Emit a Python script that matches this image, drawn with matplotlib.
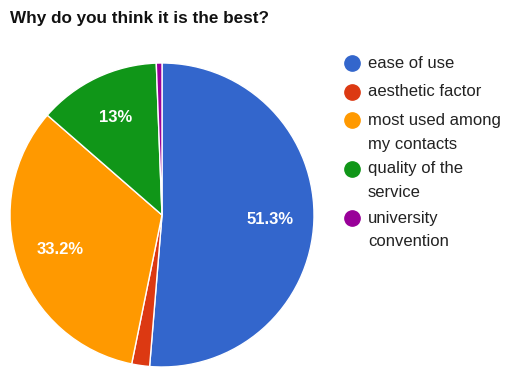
import matplotlib.pyplot as plt
from matplotlib.lines import Line2D

plt.rcParams['font.family'] = ['Liberation Sans', 'DejaVu Sans']

title = "Why do you think it is the best?"
labels = ["ease of use", "aesthetic factor", "most used among\nmy contacts",
          "quality of the\nservice", "university\nconvention"]
values = [51.3, 1.9, 33.2, 13.0, 0.6]
colors = ["#3366cc", "#dc3912", "#ff9900", "#109618", "#990099"]


def fmt_pct(p):
    if p < 5:
        return ""
    s = f"{p:.1f}"
    if s.endswith(".0"):
        s = s[:-2]
    return s + "%"


fig = plt.figure(figsize=(5.07, 3.69), dpi=100)

fig.text(10 / 507, 1 - 18 / 369, title, fontsize=12.3, fontweight="bold",
         va="center", ha="left", color="#111111")

ax = fig.add_axes([10 / 507, 2 / 369, 304 / 507, 304 / 369])
wedges, texts, autotexts = ax.pie(
    values, colors=colors, startangle=90, counterclock=False,
    autopct=fmt_pct, pctdistance=0.71,
    wedgeprops=dict(edgecolor="white", linewidth=1),
    textprops=dict(color="white", fontsize=12, fontweight="bold"))
ax.set_xlim(-1, 1)
ax.set_ylim(-1, 1)
ax.set_aspect("equal")
ax.axis("off")

# legend
y = 63
for lab, col in zip(labels, colors):
    fig.add_artist(Line2D([352 / 507], [1 - y / 369], marker="o", markersize=11,
                          color=col, linestyle="none", transform=fig.transFigure))
    lines = lab.split("\n")
    for i, ln in enumerate(lines):
        fig.text(368 / 507, 1 - (y + i * 24) / 369, ln, fontsize=12,
                 color="#222222", va="center", ha="left")
    y += 28.5 if len(lines) == 1 else 49

fig.savefig("out.png", dpi=100)
